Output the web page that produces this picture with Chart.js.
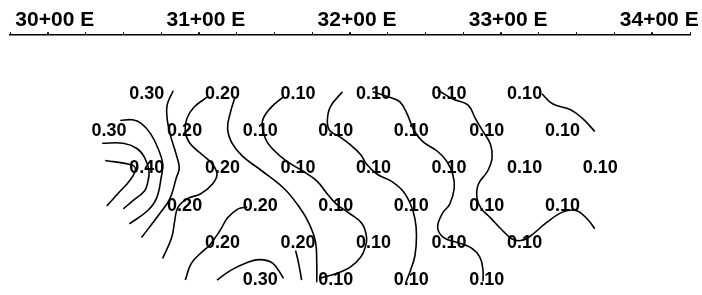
<!DOCTYPE html>
<html>
<head>
<meta charset="utf-8">
<script src="https://cdn.jsdelivr.net/npm/chart.js@4/dist/chart.umd.min.js"></script>
<style>
  html, body { margin: 0; padding: 0; background: #fff; }
  #wrap { position: relative; width: 702px; height: 295px; }
</style>
</head>
<body>
<div id="wrap"><canvas id="contour-chart"></canvas></div>
<script>
// grid of readings, one row per line of labels (stations in ft)
var row1Stations = [3050, 3100, 3150, 3200, 3250, 3300];
var row1Values = [0.30, 0.20, 0.10, 0.10, 0.10, 0.10];
var row2Stations = [3025, 3075, 3125, 3175, 3225, 3275, 3325];
var row2Values = [0.30, 0.20, 0.10, 0.10, 0.10, 0.10, 0.10];
var row3Stations = [3050, 3100, 3150, 3200, 3250, 3300, 3350];
var row3Values = [0.40, 0.20, 0.10, 0.10, 0.10, 0.10, 0.10];
var row4Stations = [3075, 3125, 3175, 3225, 3275, 3325];
var row4Values = [0.20, 0.20, 0.10, 0.10, 0.10, 0.10];
var row5Stations = [3100, 3150, 3200, 3250, 3300];
var row5Values = [0.20, 0.20, 0.10, 0.10, 0.10];
var row6Stations = [3125, 3175, 3225, 3275];
var row6Values = [0.30, 0.10, 0.10, 0.10];

var stationTicks = [3000, 3100, 3200, 3300, 3400];

// hand drawn contour lines, [station, row]
var contourA = [[3038,2.76],[3056,2.89],[3058,3.02],[3054,3.31],[3048,3.58],[3039,3.98]];
var contourB = [[3036,2.30],[3050,2.30],[3059,2.44],[3064,2.68],[3067,3.05],[3066,3.37],[3064,3.58],[3056,3.85],[3050,4.06]];
var contourC = [[3048,1.69],[3056,1.67],[3062,1.77],[3068,2.04],[3073,2.44],[3076,2.84],[3075,3.23],[3072,3.77],[3066,4.11],[3054,4.46]];
var contourD = [[3083,0.89],[3079,1.27],[3079,1.64],[3081,2.06],[3085,2.60],[3087,2.97],[3085,3.23],[3081,3.77],[3074,4.19],[3062,4.83]];
var contourE = [[3106,1.05],[3097,1.32],[3092,1.64],[3091,1.98],[3094,2.30],[3102,2.60],[3109,2.86],[3112,3.13],[3109,3.39],[3101,3.66],[3092,3.79],[3086,4.03],[3084,4.38],[3082,4.83],[3076,5.39]];
var contourF = [[3124,1.05],[3121,1.45],[3119,1.90],[3122,2.30],[3129,2.65],[3142,3.05],[3156,3.50],[3165,3.93],[3172,4.38],[3177,4.91],[3178,5.52],[3178,6.03]];
var contourG = [[3091,5.97],[3095,5.52],[3103,5.18],[3107,5.04],[3114,4.64],[3119,4.30],[3126,4.06],[3132,4.01]];
var contourH = [[3112,5.97],[3121,5.71],[3132,5.50],[3140,5.42],[3149,5.52],[3156,5.92]];
var contourI = [[3164,5.18],[3166,5.52],[3168,5.97]];
var contourJ = [[3156,1.05],[3147,1.37],[3142,1.72],[3144,2.17],[3149,2.46],[3158,2.78],[3169,3.05],[3178,3.31],[3185,3.66],[3191,3.93],[3200,4.19],[3208,4.46],[3211,4.83],[3210,5.10],[3207,5.36],[3200,5.63],[3191,5.79],[3180,5.92]];
var contourK = [[3195,0.92],[3187,1.32],[3185,1.72],[3187,1.98],[3193,2.12],[3200,2.33],[3207,2.60],[3211,2.86],[3218,3.13],[3227,3.31],[3235,3.58],[3240,3.93],[3243,4.33],[3244,4.78],[3243,5.31],[3240,5.71],[3237,6.03]];
var contourL = [[3215,0.92],[3225,1.05],[3233,1.19],[3238,1.53],[3242,1.93],[3248,2.25],[3258,2.52],[3264,2.78],[3268,3.13],[3269,3.50],[3266,3.93],[3261,4.19],[3258,4.56],[3262,4.83],[3271,4.96],[3280,5.10],[3286,5.36],[3288,5.71],[3288,6.00]];
var contourM = [[3258,0.87],[3268,1.11],[3278,1.27],[3283,1.64],[3288,1.98],[3293,2.33],[3294,2.70],[3291,3.05],[3285,3.39],[3284,3.77],[3287,4.06],[3293,4.30],[3299,4.56],[3307,4.86],[3313,4.91],[3319,4.80],[3330,4.43],[3341,4.14],[3350,4.11],[3357,4.33],[3362,4.59]];
var contourN = [[3327,0.97],[3334,1.24],[3346,1.40],[3354,1.64],[3362,1.98]];

var labelRows = [
  [row1Stations, row1Values, 1],
  [row2Stations, row2Values, 2],
  [row3Stations, row3Values, 3],
  [row4Stations, row4Values, 4],
  [row5Stations, row5Values, 5],
  [row6Stations, row6Values, 6]
];
var contours = [contourA, contourB, contourC, contourD, contourE, contourF, contourG,
  contourH, contourI, contourJ, contourK, contourL, contourM, contourN];

var datasets = [];
contours.forEach(function (line) {
  datasets.push({
    type: 'line',
    data: line.map(function (p) { return { x: p[0], y: p[1] }; }),
    borderColor: '#000',
    borderWidth: 1.6,
    tension: 0.4,
    pointRadius: 0,
    fill: false
  });
});
labelRows.forEach(function (row) {
  datasets.push({
    type: 'scatter',
    data: row[0].map(function (s) { return { x: s, y: row[2] }; }),
    valueText: row[1].map(function (v) { return v.toFixed(2); }),
    pointRadius: 0,
    showLine: false
  });
});

var valueLabels = {
  id: 'valueLabels',
  afterDatasetsDraw: function (chart) {
    var ctx = chart.ctx;
    ctx.save();
    ctx.font = 'bold 18px "Liberation Sans", Arial, sans-serif';
    ctx.fillStyle = '#000';
    ctx.textAlign = 'left';
    ctx.textBaseline = 'middle';
    chart.data.datasets.forEach(function (ds, i) {
      if (!ds.valueText) return;
      chart.getDatasetMeta(i).data.forEach(function (pt, j) {
        ctx.fillText(ds.valueText[j], pt.x + 6, pt.y - 1);
      });
    });
    ctx.restore();
  }
};

var ctx = document.getElementById('contour-chart');
var contourChart = new Chart(ctx, {
  type: 'scatter',
  data: { datasets: datasets },
  options: {
    responsive: true,
    maintainAspectRatio: false,
    animation: false,
    layout: { padding: { left: 10, right: 12, top: 9, bottom: 0 } },
    plugins: { legend: { display: false }, tooltip: { enabled: false } },
    scales: {
      x: {
        type: 'linear',
        position: 'top',
        min: 2975,
        max: 3425,
        border: { display: true, color: '#000', width: 1.5 },
        grid: {
          drawOnChartArea: false,
          drawTicks: true,
          tickLength: 3,
          color: '#000',
          lineWidth: function (c) {
            return stationTicks.indexOf(c.tick && c.tick.value) >= 0 ? 2 : 1;
          }
        },
        ticks: {
          stepSize: 25,
          autoSkip: false,
          maxRotation: 0,
          padding: -1,
          labelOffset: 7,
          color: '#000',
          font: { family: '"Liberation Sans", Arial, sans-serif', size: 21, weight: 'bold' },
          callback: function (value) {
            return stationTicks.indexOf(value) >= 0 ? (value / 100) + '+00 E' : '';
          }
        }
      },
      y: {
        type: 'linear',
        display: false,
        reverse: true,
        min: -0.6,
        max: 6.37
      }
    }
  },
  plugins: [valueLabels]
});
</script>
</body>
</html>
